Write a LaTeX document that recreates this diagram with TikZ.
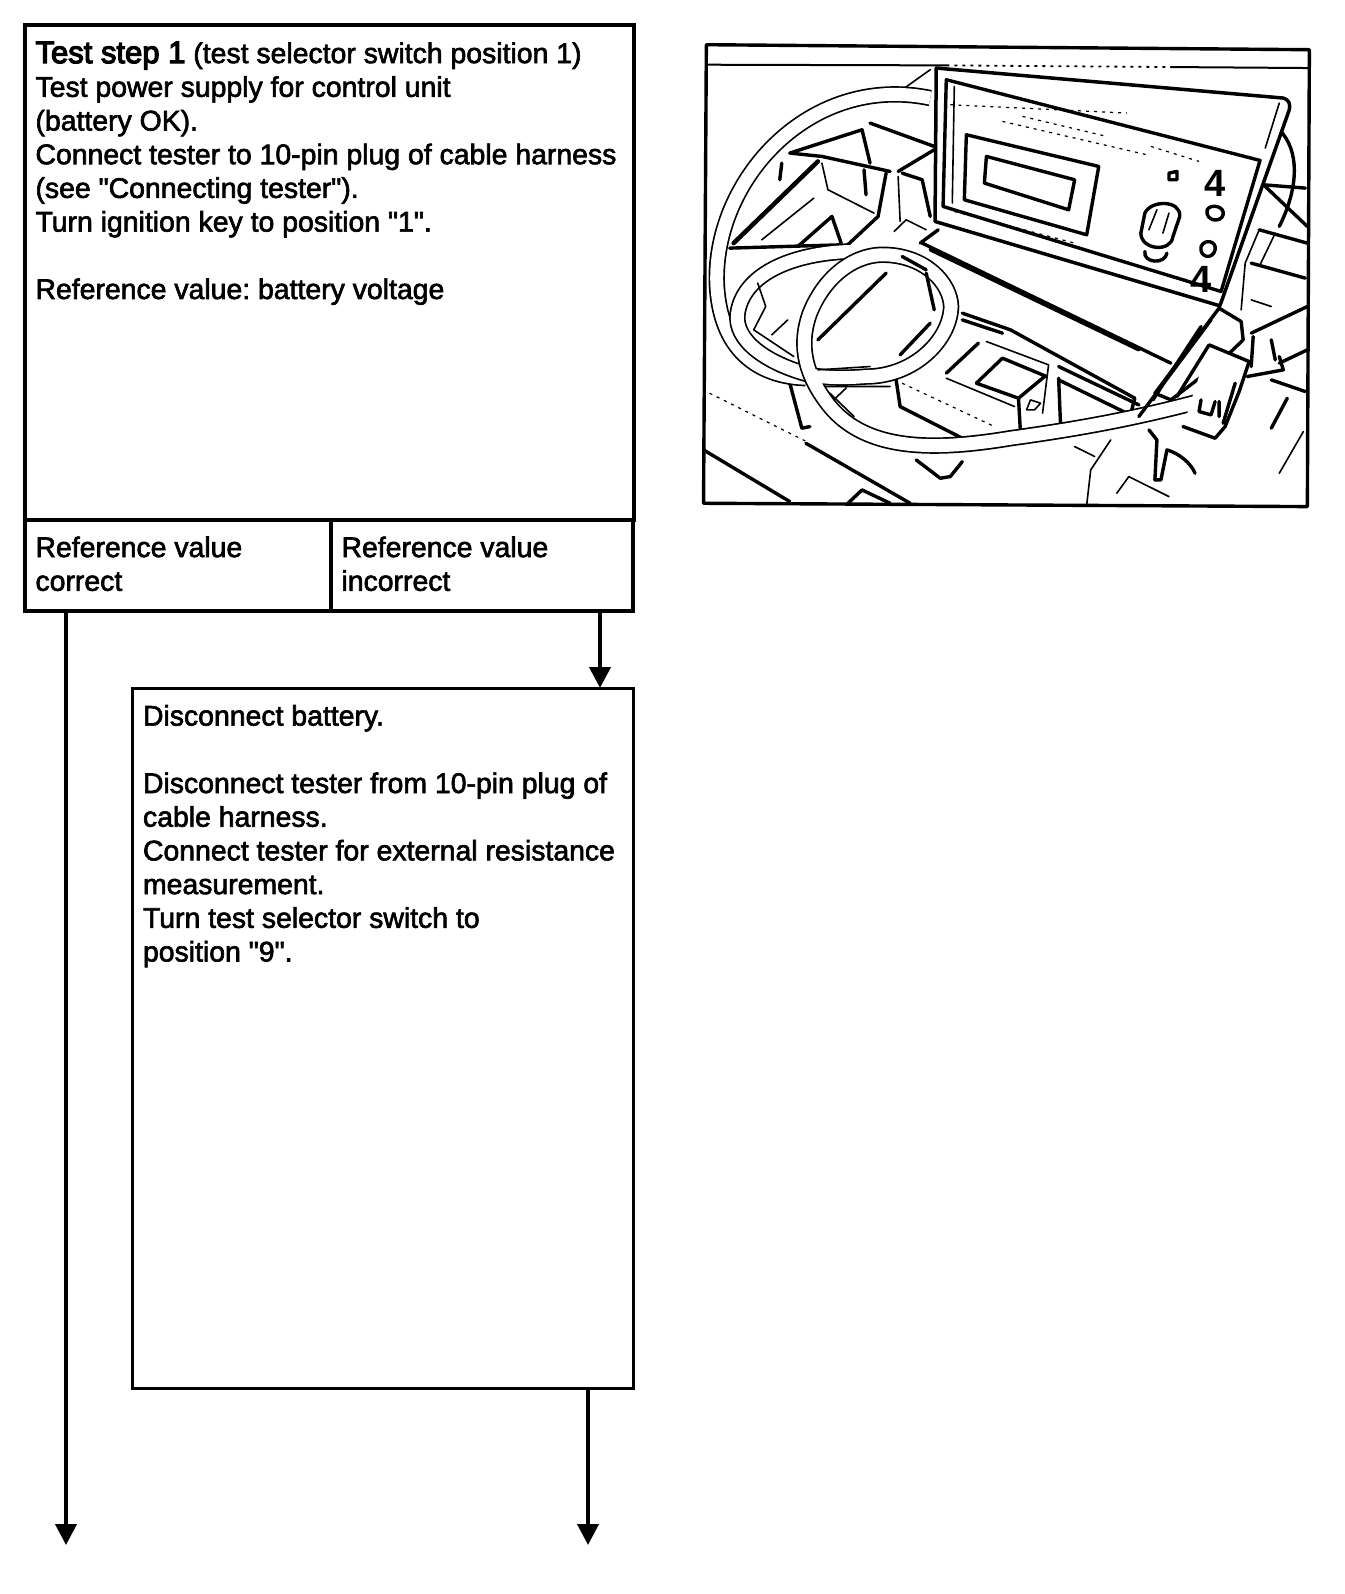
\documentclass[tikz,border=0pt]{standalone}
\usepackage{fontspec}
\usepackage{xcolor}
\usepackage{tikz}
\usetikzlibrary{shapes.geometric, arrows.meta}
\setmainfont{Liberation Sans}
\newfontfamily\heavyfont[FakeBold=2.2]{Liberation Sans}
\newfontfamily\headfont[FakeBold=4]{Liberation Sans}
\newcommand{\boxtext}[3]{\parbox[c][#2pt][t]{#1pt}{\vspace*{8pt}\raggedright\frenchspacing\strut #3}}

\begin{document}
\begin{tikzpicture}[x=1pt, y=-1pt]
    % Define block styles
    \tikzstyle{block} = [rectangle, draw, line width=4pt, outer sep=0pt, anchor=north west, inner xsep=11pt, inner ysep=6pt,
                         font=\fontsize{28.4}{33.7}\selectfont\heavyfont]
    \tikzstyle{thinblock} = [block, line width=3pt]
    \tikzstyle{arrow} = [line width=4pt, -{Triangle[length=21pt, width=21pt]}]
    \tikzstyle{sketch} = [line width=1.6pt, line cap=round, line join=round]
    \tikzstyle{heavy} = [line width=3.4pt, line cap=round, line join=round]
    \tikzstyle{fine} = [line width=1.2pt, dash pattern=on 3pt off 5pt]
    \tikzstyle{tube} = [line width=1.7pt, double=white, double distance=13pt]
    \tikzstyle{digit} = [font=\fontsize{38}{38}\selectfont\bfseries, inner sep=0pt]

    \useasboundingbox (0,0) rectangle (1344,1594);

    % Blocks on the left
    \node (teststep) [block] at (24.5,25.5) {\boxtext{587}{482}{{\headfont\fontsize{31}{33.7}\selectfont Test step 1} (test selector switch position 1)\\
        Test power supply for control unit\\
        (battery OK).\\
        Connect tester to 10-pin plug of cable harness\\
        (see "Connecting tester").\\
        Turn ignition key to position "1".\\[33.7pt]
        Reference value: battery voltage}};
    \node (correct) [block] at (teststep.south west) {\boxtext{284}{79}{Reference value\\correct}};
    \node (incorrect) [block] at (correct.north east) {\boxtext{280}{79}{Reference value\\incorrect}};
    \node (disconnect) [thinblock] at (132,688) {\boxtext{479}{688}{Disconnect battery.\\[33.7pt]
        Disconnect tester from 10-pin plug of\\
        cable harness.\\
        Connect tester for external resistance\\
        measurement.\\
        Turn test selector switch to\\
        position "9".}};

    % Arrow ends
    \coordinate (correctend) at (66,1545);
    \coordinate (incorrectdrop) at (600,650);
    \coordinate (disconnectend) at (588,1545);

    % Arrows
    \draw [arrow] (correct.south -| correctend) -- (correctend);
    \draw [arrow] (incorrect.south -| incorrectdrop) -- (disconnect.north -| incorrectdrop);
    \draw [arrow] (disconnect.south -| disconnectend) -- (disconnectend);

    % Photo of tester in the car
    \begin{scope}[shift={(689.5,29.7)}, x=0.4012pt, y=-0.3335pt]
        % frame
        \draw [heavy] (42,45) -- (1545,60) -- (1540,1430) -- (35,1420) -- cycle;
        \draw [sketch, line width=2pt] (45,105) -- (640,107);
        \draw [fine, line width=1.8pt] (640,107) -- (1200,112);
        \draw [sketch, line width=2pt] (1200,112) -- (1545,115);

        % interior, left of the ring
        \draw [sketch] (600,120) -- (530,180);
        \draw [heavy] (450,280) -- (610,350) (250,370) -- (430,300) -- (450,400) (250,370) -- (330,380) -- (500,425);
        \draw [heavy, line width=4.5pt] (110,640) -- (320,395);
        \draw [heavy] (435,420) -- (440,495) (490,430) -- (470,560) -- (390,650) (530,430) -- (580,450) -- (600,560);
        \draw [heavy] (520,425) -- (610,360) (100,655) -- (380,645);
        \draw [heavy] (270,650) -- (355,560) -- (378,640) (230,400) -- (225,450);
        \draw [sketch] (180,630) -- (310,505) (330,400) -- (345,480) -- (460,550) (520,440) -- (525,575) (510,605) -- (540,570) -- (590,600);

        % dashboard and battery
        \draw [heavy] (580,640) -- (1200,1000) (620,600) -- (575,640) (600,660) -- (1120,960);
        \draw [heavy] (680,850) -- (800,900) -- (1110,1105) -- (1100,1150) (680,870) -- (780,910) (920,1010) -- (1120,1125);
        \draw [heavy] (640,1030) -- (720,940) (715,1060) -- (780,985) -- (890,1040) (715,1060) -- (820,1105) -- (885,1040);
        \draw [sketch] (740,935) -- (895,1005) -- (880,1150);
        \draw [heavy] (820,1105) -- (825,1210) (920,1045) -- (925,1190) (920,1050) -- (1090,1150);
        \draw [heavy] (515,1050) -- (525,1130) -- (680,1225);
        \draw [sketch] (640,1045) -- (810,1130) (840,1140) -- (860,1140) -- (875,1120) -- (850,1110) -- cycle;
        \draw [heavy] (250,1060) -- (280,1195) -- (300,1190) (565,1290) -- (625,1345) -- (650,1340) -- (680,1295);
        \draw [sketch] (330,1070) -- (500,1070) (390,1075) -- (355,1115);
        \draw [heavy] (35,1260) -- (250,1415) (290,1240) -- (550,1420) (395,1420) -- (430,1380) -- (500,1420);
        \draw [fine] (50,1090) -- (300,1240) (530,1060) -- (760,1190);

        % right of the tester
        \draw [heavy] (1470,300) .. controls (1520,360) and (1520,470) .. (1470,590);
        \draw [heavy] (1435,470) -- (1540,590) (1420,600) -- (1540,640) (1400,700) -- (1535,745) (1430,465) -- (1535,475);
        \draw [sketch] (1420,600) -- (1385,700) -- (1375,840) (1460,610) -- (1420,710) (1400,810) -- (1450,830);
        \draw [heavy] (1400,910) -- (1540,830) (1470,1000) -- (1540,960) (1390,1040) -- (1480,1020) -- (1470,980) (1450,1050) -- (1535,1085);
        \draw [heavy] (1490,1105) -- (1450,1195) (1405,920) -- (1400,1010) (1450,930) -- (1460,990);
        \draw [sketch] (1530,1205) -- (1470,1330) (1050,1230) -- (1000,1320) -- (990,1425) (1065,1390) -- (1095,1340) -- (1195,1400);
        \draw [heavy] (1145,1200) -- (1165,1230) -- (1160,1350) -- (1175,1350) -- (1190,1260) .. controls (1220,1270) and (1250,1300) .. (1260,1330);
        \draw [sketch] (960,1250) -- (1010,1280);

        % hose
        \draw [tube] (600,205) .. controls (300,130) and (60,450) .. (68,760) .. controls (75,960) and (170,1040) .. (290,1045);
        \draw [tube] (300,1035) .. controls (190,1000) and (110,930) .. (120,850) .. controls (135,730) and (260,670) .. (400,665);
        \draw [tube] (1285,1110) .. controls (1100,1170) and (950,1200) .. (800,1225) .. controls (600,1265) and (440,1260) .. (350,1130) .. controls (290,1040) and (270,950) .. (300,850) .. controls (340,730) and (420,670) .. (490,675) .. controls (590,680) and (650,760) .. (652,830) .. controls (650,930) and (560,1040) .. (440,1040) .. controls (390,1045) and (340,1045) .. (300,1035);
        % parts seen through the ring
        \draw [heavy] (320,930) -- (490,730) (525,975) -- (600,880) (590,730) -- (610,840) (530,680) -- (590,720);
        \draw [sketch] (170,760) -- (190,830) -- (160,900) -- (260,980) (205,915) -- (245,870) (320,1020) -- (450,1010);
        \draw [sketch] (350,1090) -- (410,1160);

        % tester
        \draw [heavy, fill=white, line width=3.5pt] (615,115) -- (1480,205) .. controls (1495,210) and (1498,225) .. (1495,240) -- (1322,828) -- (612,575) -- cycle;
        \draw [heavy] (640,150) -- (1422,392) -- (1325,785) -- (632,530) -- cycle;
        \draw [heavy] (690,315) -- (1020,410) -- (990,615) -- (685,510) -- cycle;
        \draw [heavy] (740,380) -- (960,450) -- (945,540) -- (735,460) -- cycle;
        \draw [sketch] (1470,220) -- (1435,355) (660,170) -- (655,520);
        \draw [fine] (650,225) -- (1090,250) (830,260) -- (1040,320) (780,275) -- (1140,375) (1150,350) -- (1270,395) (660,545) -- (960,640) (1060,690) -- (1240,750);
        % knob and buttons
        \draw [heavy] (1125,610) .. controls (1125,660) and (1200,670) .. (1205,620) -- (1222,560) .. controls (1225,510) and (1150,510) .. (1135,550) -- cycle;
        \draw [sketch] (1165,540) -- (1145,600) (1195,550) -- (1180,610);
        \draw [heavy] (1135,665) .. controls (1130,700) and (1185,705) .. (1190,670);
        \draw [heavy] (1290,540) .. controls (1300,520) and (1335,530) .. (1330,555) .. controls (1325,580) and (1285,575) .. (1290,540);
        \draw [heavy] (1275,650) .. controls (1285,625) and (1315,635) .. (1310,660) .. controls (1305,690) and (1270,685) .. (1275,650);
        \draw [heavy] (1195,430) -- (1215,425) -- (1215,450) -- (1195,450) -- cycle;
        \node (labelupper) [digit] at (1310,460) {4};
        \node (labellower) [digit] at (1275,750) {4};

        % plug
        \draw [heavy, fill=white] (1320,835) -- (1375,875) -- (1380,930) -- (1320,1000) -- (1200,1110) -- (1160,1090) -- cycle;
        \draw [heavy] (1300,870) -- (1120,1160) (1275,890) -- (1155,1110);
        \draw [heavy, fill=white] (1295,945) -- (1395,995) -- (1370,1085) -- (1335,1190) -- (1310,1225) -- (1230,1190) (1295,945) -- (1215,1100);
        \draw [heavy] (1275,1110) -- (1270,1145) -- (1300,1155) -- (1310,1115) (1320,1115) -- (1320,1160) (1360,1060) -- (1330,1180);
    \end{scope}
\end{tikzpicture}
\end{document}
